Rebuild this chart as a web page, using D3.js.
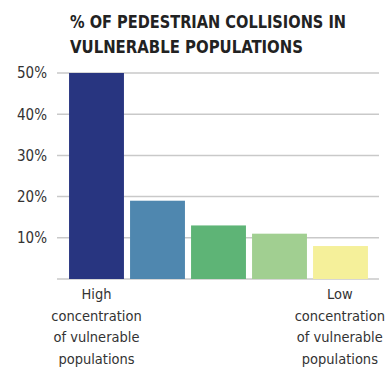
<!DOCTYPE html>
<html>
<head>
<meta charset="utf-8">
<script src="https://cdn.jsdelivr.net/npm/d3@7"></script>
<style>
  html, body { margin: 0; padding: 0; background: #fff; }
  svg { display: block; }
</style>
</head>
<body>
<svg id="chart" width="386" height="373"></svg>
<script>
// Share of pedestrian collisions by concentration of vulnerable populations
const categories = ["q1", "q2", "q3", "q4", "q5"];
const values = [50, 19, 13, 11, 8];
const barColors = ["#283580", "#4f87af", "#5eb476", "#a1cf91", "#f5f09a"];
const gridTicks = [0, 10, 20, 30, 40, 50];
const tickLabels = ["", "10%", "20%", "30%", "40%", "50%"];
const titleLines = ["% OF PEDESTRIAN COLLISIONS IN", "VULNERABLE POPULATIONS"];
const highLabel = ["High", "concentration", "of vulnerable", "populations"];
const lowLabel = ["Low", "concentration", "of vulnerable", "populations"];

const svg = d3.select("#chart");
const condensed = "'Liberation Sans Narrow', 'DejaVu Sans Condensed', 'Roboto', sans-serif";

const x = d3.scaleBand().domain(categories).range([66, 371])
  .paddingInner(0.1).paddingOuter(0.05);
const y = d3.scaleLinear().domain([0, 50]).range([279, 73]);

// Title, glyphs squeezed to a fixed line width
const titleWidths = [276, 233];
svg.append("g").selectAll("text").data(titleLines).join("text")
  .attr("x", 70)
  .attr("y", (d, i) => 28 + i * 25)
  .attr("font-family", condensed)
  .attr("font-weight", "bold")
  .attr("font-size", 18.5)
  .attr("fill", "#222")
  .attr("textLength", (d, i) => titleWidths[i])
  .attr("lengthAdjust", "spacingAndGlyphs")
  .text(d => d);

// Horizontal gridlines
svg.append("g").selectAll("line").data(gridTicks).join("line")
  .attr("x1", 57).attr("x2", 379)
  .attr("y1", d => y(d)).attr("y2", d => y(d))
  .attr("stroke", "#c9c9c9").attr("stroke-width", 1.5);

// Y tick labels
svg.append("g").selectAll("text").data(gridTicks).join("text")
  .attr("x", 47)
  .attr("y", d => y(d))
  .attr("dy", "0.36em")
  .attr("text-anchor", "end")
  .attr("font-family", condensed)
  .attr("font-size", 15)
  .attr("fill", "#333")
  .text((d, i) => tickLabels[i]);

// Bars
svg.append("g").selectAll("rect").data(values).join("rect")
  .attr("x", (d, i) => x(categories[i]))
  .attr("width", x.bandwidth())
  .attr("y", d => y(d))
  .attr("height", d => y(0) - y(d))
  .attr("fill", (d, i) => barColors[i]);

// End labels under first and last bars
function endLabel(lines, cat, maxRight) {
  let cx = x(cat) + x.bandwidth() / 2;
  const g = svg.append("g");
  const texts = g.selectAll("text").data(lines).join("text")
    .attr("x", cx)
    .attr("y", (d, i) => 299 + i * 21.5)
    .attr("text-anchor", "middle")
    .attr("font-family", condensed)
    .attr("font-size", 14.5)
    .attr("fill", "#333")
    .text(d => d);
  if (maxRight) {
    let widest = 0;
    texts.each(function () { widest = Math.max(widest, this.getComputedTextLength()); });
    if (cx + widest / 2 > maxRight) {
      cx = maxRight - widest / 2;
      texts.attr("x", cx);
    }
  }
}
endLabel(highLabel, categories[0]);
endLabel(lowLabel, categories[categories.length - 1], 385);
</script>
</body>
</html>
